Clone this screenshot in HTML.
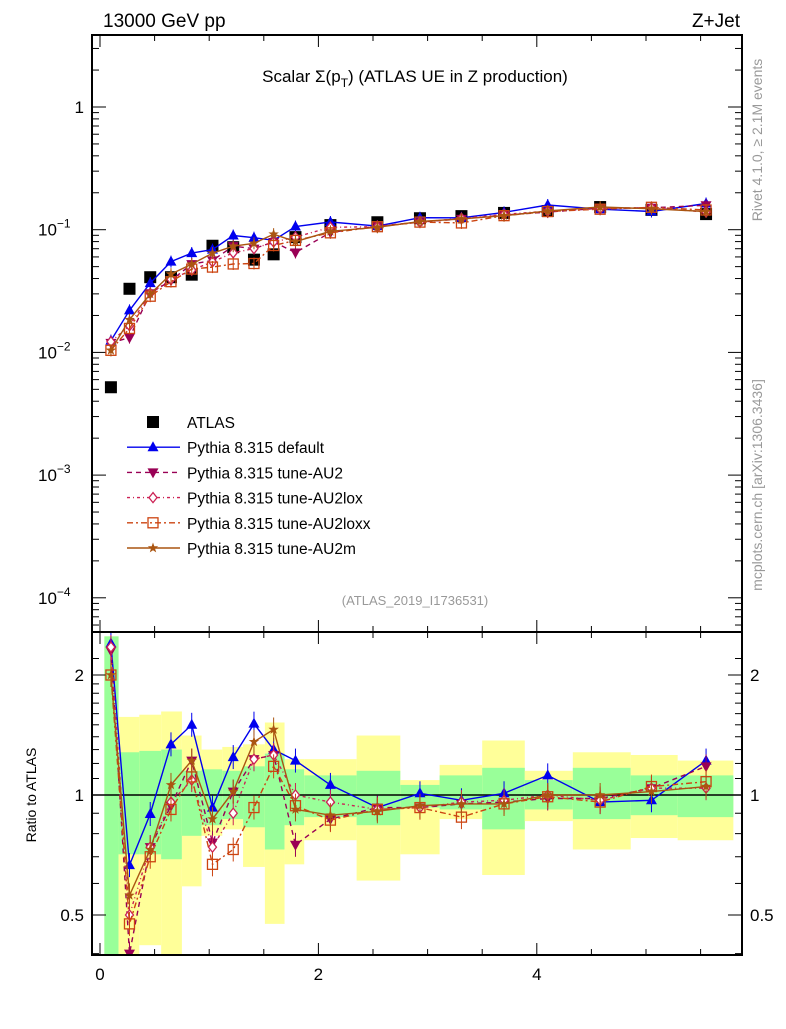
<!DOCTYPE html>
<html><head><meta charset="utf-8"><style>
html,body{margin:0;padding:0;background:#fff;}
svg text{font-family:"Liberation Sans",sans-serif;}
</style></head><body>
<svg id="c" width="786" height="1024" xmlns="http://www.w3.org/2000/svg">
<g id="bands"></g>
<g id="grid"></g>
<g id="series"></g>
<rect x="92" y="35" width="650" height="597" fill="none" stroke="#000" stroke-width="2"/>
<rect x="92" y="632" width="650" height="323" fill="none" stroke="#000" stroke-width="2"/>
<text x="103" y="27" font-size="19">13000 GeV pp</text>
<text x="740" y="27" font-size="19" text-anchor="end">Z+Jet</text>
<text x="415" y="82" font-size="17" text-anchor="middle">Scalar Σ(p<tspan font-size="12" dy="5">T</tspan><tspan dy="-5">) (ATLAS UE in Z production)</tspan></text>
<text x="415" y="605" font-size="13" fill="#999" text-anchor="middle">(ATLAS_2019_I1736531)</text>
<text transform="translate(762,140) rotate(-90)" font-size="14" fill="#999" text-anchor="middle">Rivet 4.1.0, ≥ 2.1M events</text>
<text transform="translate(762,485) rotate(-90)" font-size="14" fill="#999" text-anchor="middle">mcplots.cern.ch [arXiv:1306.3436]</text>
<text transform="translate(36,795) rotate(-90)" font-size="14" text-anchor="middle">Ratio to ATLAS</text>
<g id="legend"></g>
</svg>
<script>
const xs=[0.10,0.27,0.46,0.65,0.84,1.03,1.22,1.41,1.59,1.79,2.11,2.54,2.93,3.31,3.70,4.10,4.58,5.05,5.55];
const atlas=[0.0052,0.033,0.041,0.041,0.043,0.074,0.072,0.057,0.063,0.087,0.109,0.115,0.124,0.129,0.137,0.142,0.153,0.145,0.134];
const rDefault=[2.4,0.667,0.896,1.34,1.50,0.93,1.245,1.51,1.30,1.22,1.06,0.93,1.01,0.97,1.01,1.12,0.96,0.97,1.22];
const rAU2=[2.3,0.40,0.74,0.94,1.22,0.76,1.02,1.23,1.26,0.75,0.87,0.93,0.93,0.95,0.96,0.98,0.98,1.04,1.18];
const rAU2lox=[2.35,0.50,0.74,0.96,1.09,0.74,0.90,1.23,1.26,1.0,0.96,0.92,0.93,0.96,0.97,1.0,0.97,1.04,1.04];
const rAU2loxx=[2.0,0.475,0.70,0.92,1.11,0.67,0.73,0.93,1.18,0.94,0.865,0.92,0.93,0.88,0.95,0.99,0.96,1.05,1.08];
const rAU2m=[2.0,0.56,0.73,1.06,1.22,0.87,1.02,1.36,1.46,0.92,0.89,0.91,0.94,0.95,0.95,1.0,1.0,1.02,1.05];
const binEdges=[0.04,0.17,0.36,0.56,0.75,0.93,1.12,1.31,1.51,1.69,1.87,2.35,2.75,3.11,3.50,3.89,4.33,4.86,5.29,5.80];
const yelHi=[2.5,1.57,1.59,1.62,1.41,1.30,1.32,1.34,1.52,1.23,1.23,1.41,1.09,1.19,1.37,1.15,1.28,1.26,1.22];
const yelLo=[0.3,0.3,0.42,0.3,0.59,0.79,0.82,0.66,0.475,0.67,0.77,0.61,0.71,0.87,0.63,0.86,0.73,0.78,0.77];
const grnHi=[2.5,1.28,1.29,1.30,1.15,1.16,1.15,1.18,1.27,1.16,1.12,1.15,1.06,1.12,1.17,1.09,1.17,1.12,1.12];
const grnLo=[0.3,0.71,0.71,0.69,0.79,0.84,0.87,0.83,0.73,0.84,0.88,0.84,0.93,0.92,0.82,0.92,0.87,0.89,0.88];
const xTicks=[0,2,4];
const mainTicks=[1,0.1,0.01,0.001,0.0001];
const mainTickLabels=["1","10","10","10","10"];
const mainTickExp=["","−1","−2","−3","−4"];
const ratioTicks=[2,1,0.5];
const ratioTickLabels=["2","1","0.5"];

const NS="http://www.w3.org/2000/svg";
const X=v=>100+v*109.2;
const Y=v=>107-Math.log10(v)*122.7;
const R=v=>795-Math.log2(v)*120;
function mk(tag,at,parent){const e=document.createElementNS(NS,tag);for(const k in at)e.setAttribute(k,at[k]);parent.appendChild(e);return e;}
const svg=document.getElementById('c');
const bands=document.getElementById('bands');
const grid=document.getElementById('grid');
const ser=document.getElementById('series');
const clipR=v=>Math.max(633,Math.min(954,R(v)));
for(let i=0;i<xs.length;i++){
  const x0=X(binEdges[i]),x1=X(binEdges[i+1]);
  const y=mk('rect',{x:x0,y:clipR(yelHi[i]),width:x1-x0,height:clipR(yelLo[i])-clipR(yelHi[i]),fill:'#ffff99'},bands);
  
  
  const g=mk('rect',{x:x0,y:clipR(grnHi[i]),width:x1-x0,height:clipR(grnLo[i])-clipR(grnHi[i]),fill:'#99ff99'},bands);
  
  
}
// ratio 1 line
const one=mk('line',{x1:92,x2:742,y1:R(1),y2:R(1),stroke:'#000','stroke-width':1.5},grid);


// x ticks
for(let v=0;v<=5.8;v+=0.5){
  const big=Math.abs(v-Math.round(v/2)*2)<1e-6;const L=big?12:6;
  for(const [yt,yb] of [[35,632],[632,955]]){
    mk('line',{x1:X(v),x2:X(v),y1:yt,y2:yt+L,stroke:'#000'},grid);
    mk('line',{x1:X(v),x2:X(v),y1:yb,y2:yb-L,stroke:'#000'},grid);
  }
}
xTicks.forEach(v=>{const t=mk('text',{x:X(v),y:980,'font-size':17,'text-anchor':'middle'},grid);t.textContent=String(v);

});
// main y ticks
for(let d=-5;d<=0;d++){for(let m=1;m<10;m++){const v=m*Math.pow(10,d);const y=Y(v);if(y<36||y>631)continue;
  const L=m==1?14:7;mk('line',{x1:92,x2:92+L,y1:y,y2:y,stroke:'#000'},grid);mk('line',{x1:742,x2:742-L,y1:y,y2:y,stroke:'#000'},grid);}}
mainTicks.forEach((v,i)=>{const t=mk('text',{x:mainTickExp[i]?66:84,y:Y(v)+6,'font-size':17,'text-anchor':mainTickExp[i]?'end':'end'},grid);
  t.textContent=mainTickLabels[i];
  if(mainTickExp[i]){const s=mk('tspan',{dy:-8,'font-size':12},t);s.textContent=mainTickExp[i];t.setAttribute('x',69);t.setAttribute('text-anchor','start');t.setAttribute('x',38);}
  
  });
// ratio y ticks
[0.4,0.5,0.6,0.7,0.8,0.9,1,1.1,1.2,1.3,1.4,1.5,1.6,1.7,1.8,1.9,2,2.2].forEach(v=>{const y=R(v);if(y<633||y>954)return;const big=[0.5,1,2].includes(v);const L=big?14:7;
  mk('line',{x1:92,x2:92+L,y1:y,y2:y,stroke:'#000'},grid);mk('line',{x1:742,x2:742-L,y1:y,y2:y,stroke:'#000'},grid);});
ratioTicks.forEach((v,i)=>{for(const [x,a] of [[84,'end'],[750,'start']]){const t=mk('text',{x:x,y:R(v)+6,'font-size':17,'text-anchor':a},grid);t.textContent=ratioTickLabels[i];
  
  }});

function marker(g,type,x,y,col){
  if(type==='sq')mk('rect',{x:x-6,y:y-6,width:12,height:12,fill:'#000'},g);
  else if(type==='up')mk('polygon',{points:`${x},${y-6} ${x-5.5},${y+4} ${x+5.5},${y+4}`,fill:col},g);
  else if(type==='down')mk('polygon',{points:`${x},${y+6} ${x-5.5},${y-4} ${x+5.5},${y-4}`,fill:col},g);
  else if(type==='dia')mk('polygon',{points:`${x},${y-5} ${x-4},${y} ${x},${y+5} ${x+4},${y}`,fill:'#fff',stroke:col,'stroke-width':1.3},g);
  else if(type==='box')mk('rect',{x:x-5,y:y-5,width:10,height:10,fill:'none',stroke:col,'stroke-width':1.3},g);
  else if(type==='star'){let p=[];for(let k=0;k<10;k++){const r=k%2?2.2:5.5,a=-Math.PI/2+k*Math.PI/5;p.push((x+r*Math.cos(a)).toFixed(1)+','+(y+r*Math.sin(a)).toFixed(1));}mk('polygon',{points:p.join(' '),fill:col},g);}
}
const series=[
 {name:'pythia-default',r:rDefault,col:'#0000ee',dash:'',m:'up',label:'Pythia 8.315 default'},
 {name:'pythia-au2',r:rAU2,col:'#990055',dash:'5,4',m:'down',label:'Pythia 8.315 tune-AU2'},
 {name:'pythia-au2lox',r:rAU2lox,col:'#cc2255',dash:'3,3,1,3',m:'dia',label:'Pythia 8.315 tune-AU2lox'},
 {name:'pythia-au2loxx',r:rAU2loxx,col:'#cc4411',dash:'6,3,2,3',m:'box',label:'Pythia 8.315 tune-AU2loxx'},
 {name:'pythia-au2m',r:rAU2m,col:'#aa5511',dash:'',m:'star',label:'Pythia 8.315 tune-AU2m'}];
// ATLAS main
const ga=mk('g',{},ser);


xs.forEach((x,i)=>marker(ga,'sq',X(x),Y(atlas[i])));
series.forEach(s=>{
  const g=mk('g',{},ser);
  
  
  const pm=xs.map((x,i)=>X(x).toFixed(1)+','+Y(atlas[i]*s.r[i]).toFixed(1)).join(' ');
  mk('polyline',{points:pm,fill:'none',stroke:s.col,'stroke-width':1.4,'stroke-dasharray':s.dash},g);
  xs.forEach((x,i)=>{const y=Y(atlas[i]*s.r[i]);mk('line',{x1:X(x),x2:X(x),y1:y-6,y2:y+6,stroke:s.col},g);marker(g,s.m,X(x),y,s.col);});
  const gr=mk('g',{'clip-path':'url(#rclip)'},ser);
  
  
  const pr=xs.map((x,i)=>X(x).toFixed(1)+','+R(s.r[i]).toFixed(1)).join(' ');
  mk('polyline',{points:pr,fill:'none',stroke:s.col,'stroke-width':1.4,'stroke-dasharray':s.dash},gr);
  xs.forEach((x,i)=>{const y=R(s.r[i]);mk('line',{x1:X(x),x2:X(x),y1:y-12,y2:y+12,stroke:s.col},gr);marker(gr,s.m,X(x),y,s.col);});
});
const defs=mk('defs',{},svg);const cp=mk('clipPath',{id:'rclip'},defs);mk('rect',{x:92,y:633,width:650,height:321},cp);
// legend
const lg=document.getElementById('legend');
const rows=[{label:'ATLAS',m:'sq'}].concat(series);
rows.forEach((s,i)=>{const y=422+i*25.2;
  const e=mk('g',{},lg);
  
  
  if(s.m!=='sq')mk('line',{x1:127,x2:180,y1:y,y2:y,stroke:s.col,'stroke-width':1.4,'stroke-dasharray':s.dash},e);
  marker(e,s.m,153,y,s.col);
  const t=mk('text',{x:187,y:y+6,'font-size':15.5},e);t.textContent=s.label;});
</script>
</body></html>
